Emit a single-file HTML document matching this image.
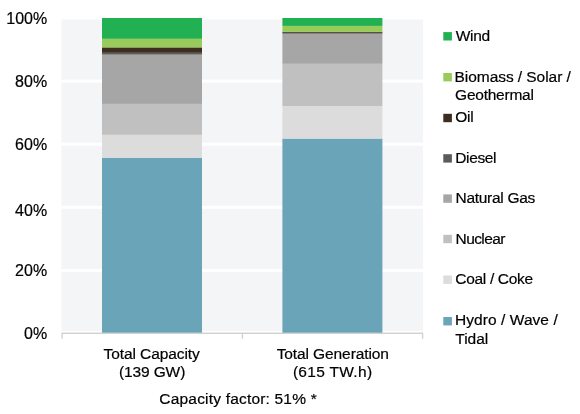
<!DOCTYPE html>
<html><head><meta charset="utf-8"><style>
html,body{margin:0;padding:0;background:#fff;}
body{width:580px;height:414px;position:relative;overflow:hidden;font-family:"Liberation Sans",sans-serif;color:#000;}
.t{position:absolute;line-height:18px;white-space:nowrap;-webkit-text-stroke:0.2px #000;filter:grayscale(1);}
</style></head><body>
<svg width="580" height="414" style="position:absolute;left:0;top:0"><rect x="61.5" y="18" width="361.5" height="315.5" fill="#f4f5f7"/><rect x="61.5" y="330.9" width="361.5" height="1.7" fill="#fff"/><rect x="61.5" y="268.90" width="361.5" height="3" fill="#fff"/><rect x="61.5" y="205.80" width="361.5" height="3" fill="#fff"/><rect x="61.5" y="142.70" width="361.5" height="3" fill="#fff"/><rect x="61.5" y="79.60" width="361.5" height="3" fill="#fff"/><rect x="61.5" y="16.50" width="361.5" height="3" fill="#fff"/><rect x="102" y="158.00" width="100" height="175.00" fill="#6aa4b8"/><rect x="102" y="134.80" width="100" height="23.20" fill="#dcdcdc"/><rect x="102" y="103.90" width="100" height="30.90" fill="#c1c0c0"/><rect x="102" y="54.60" width="100" height="49.30" fill="#a6a6a6"/><rect x="102" y="52.80" width="100" height="1.80" fill="#5b5b5b"/><rect x="102" y="47.40" width="100" height="5.40" fill="#3b2e20"/><rect x="102" y="38.80" width="100" height="8.60" fill="#98cb5a"/><rect x="102" y="18.00" width="100" height="20.80" fill="#21b052"/><rect x="282.4" y="138.60" width="100" height="194.40" fill="#6aa4b8"/><rect x="282.4" y="106.00" width="100" height="32.60" fill="#dcdcdc"/><rect x="282.4" y="63.80" width="100" height="42.20" fill="#c1c0c0"/><rect x="282.4" y="33.70" width="100" height="30.10" fill="#a6a6a6"/><rect x="282.4" y="32.80" width="100" height="0.90" fill="#5b5b5b"/><rect x="282.4" y="31.90" width="100" height="0.90" fill="#3b2e20"/><rect x="282.4" y="25.90" width="100" height="6.00" fill="#98cb5a"/><rect x="282.4" y="18.00" width="100" height="7.90" fill="#21b052"/><rect x="61.5" y="332.6" width="361.5" height="1.4" fill="#d2d2d2"/><rect x="61.40" y="333.8" width="1.4" height="5" fill="#d2d2d2"/><rect x="241.70" y="333.8" width="1.4" height="5" fill="#d2d2d2"/><rect x="421.90" y="333.8" width="1.4" height="5" fill="#d2d2d2"/><rect x="443.3" y="32.10" width="8.6" height="8.4" fill="#21b052"/><rect x="443.3" y="73.00" width="8.6" height="8.4" fill="#98cb5a"/><rect x="443.3" y="113.80" width="8.6" height="8.4" fill="#3b2e20"/><rect x="443.3" y="154.20" width="8.6" height="8.4" fill="#5b5b5b"/><rect x="443.3" y="194.40" width="8.6" height="8.4" fill="#a6a6a6"/><rect x="443.3" y="234.80" width="8.6" height="8.4" fill="#c1c0c0"/><rect x="443.3" y="275.50" width="8.6" height="8.4" fill="#dcdcdc"/><rect x="443.3" y="317.00" width="8.6" height="8.4" fill="#6aa4b8"/></svg>
<div class="t" style="font-size:16px;left:6.28px;top:10.00px;letter-spacing:0.000px">100%</div>
<div class="t" style="font-size:16px;left:15.12px;top:73.00px;letter-spacing:0.000px">80%</div>
<div class="t" style="font-size:16px;left:15.12px;top:136.00px;letter-spacing:0.000px">60%</div>
<div class="t" style="font-size:16px;left:15.12px;top:202.00px;letter-spacing:0.000px">40%</div>
<div class="t" style="font-size:16px;left:15.12px;top:262.00px;letter-spacing:0.000px">20%</div>
<div class="t" style="font-size:16px;left:24.12px;top:325.00px;letter-spacing:0.000px">0%</div>
<div class="t" style="font-size:15.5px;left:455.82px;top:27.00px;letter-spacing:-0.320px">Wind</div>
<div class="t" style="font-size:15.5px;left:454.57px;top:68.00px;letter-spacing:-0.058px">Biomass / Solar /</div>
<div class="t" style="font-size:15.5px;left:455.09px;top:86.00px;letter-spacing:-0.241px">Geothermal</div>
<div class="t" style="font-size:15.5px;left:455.23px;top:108.00px;letter-spacing:-0.193px">Oil</div>
<div class="t" style="font-size:15.5px;left:455.30px;top:149.00px;letter-spacing:-0.393px">Diesel</div>
<div class="t" style="font-size:15.5px;left:455.52px;top:189.00px;letter-spacing:-0.300px">Natural Gas</div>
<div class="t" style="font-size:15.5px;left:455.52px;top:230.00px;letter-spacing:-0.579px">Nuclear</div>
<div class="t" style="font-size:15.5px;left:455.35px;top:270.00px;letter-spacing:-0.326px">Coal / Coke</div>
<div class="t" style="font-size:15.5px;left:455.00px;top:311.00px;letter-spacing:0.062px">Hydro / Wave /</div>
<div class="t" style="font-size:15.5px;left:455.26px;top:330.00px;letter-spacing:0.004px">Tidal</div>
<div class="t" style="font-size:15.5px;left:103.58px;top:345.00px;letter-spacing:-0.095px">Total Capacity</div>
<div class="t" style="font-size:15.5px;left:118.89px;top:363.00px;letter-spacing:-0.108px">(139 GW)</div>
<div class="t" style="font-size:15.5px;left:276.68px;top:345.00px;letter-spacing:-0.101px">Total Generation</div>
<div class="t" style="font-size:15.5px;left:292.89px;top:363.00px;letter-spacing:0.310px">(615 TW.h)</div>
<div class="t" style="font-size:15.5px;left:159.35px;top:390.00px;letter-spacing:0.189px">Capacity factor: 51% *</div>
</body></html>
